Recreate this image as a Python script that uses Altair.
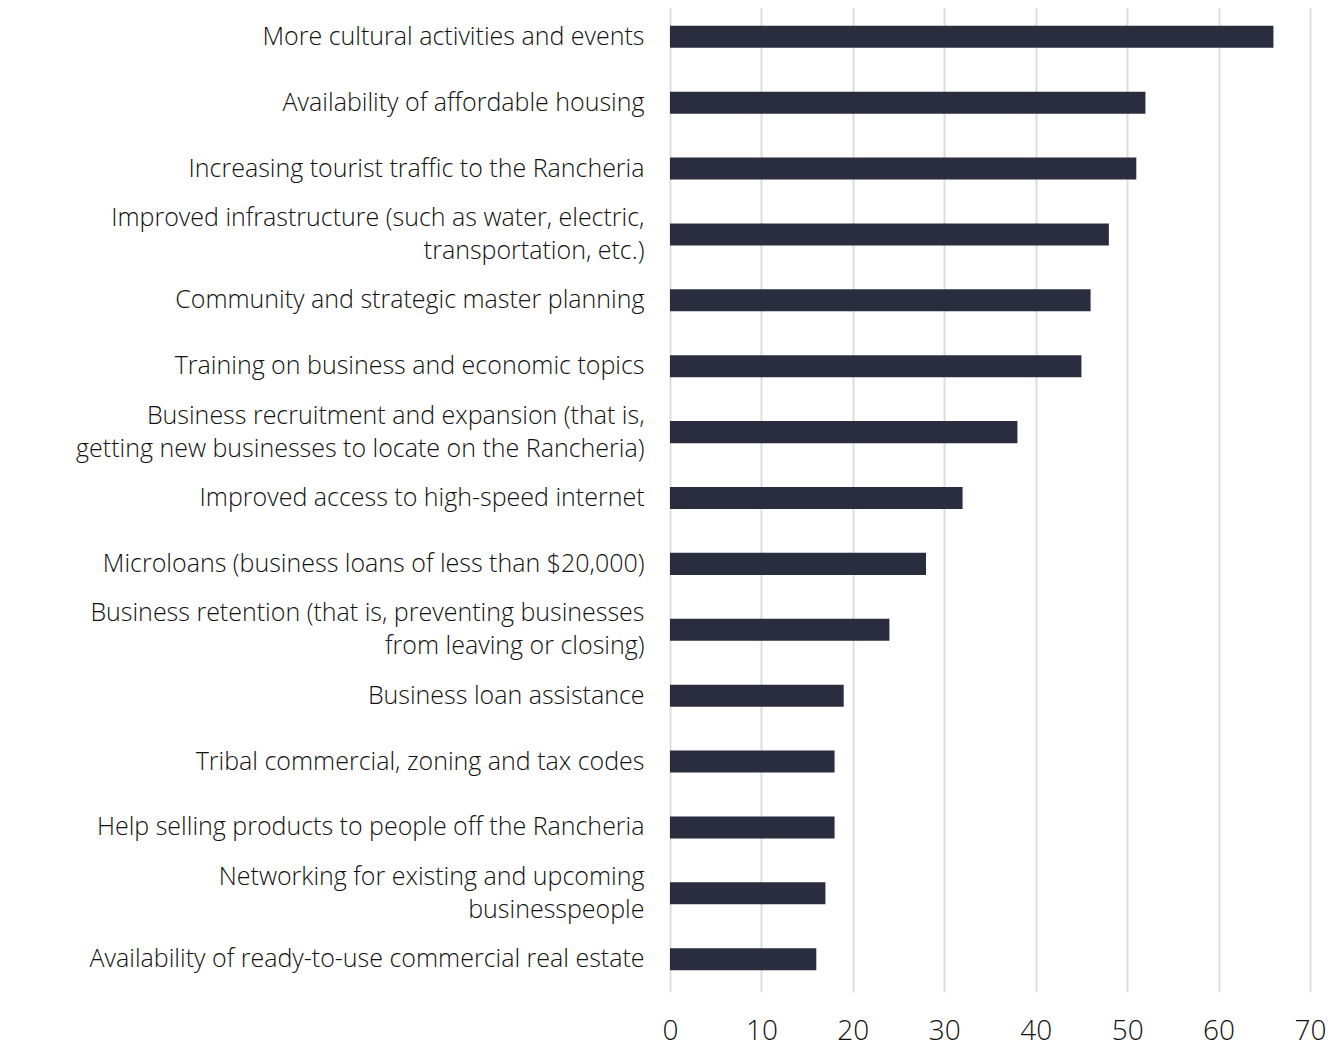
import altair as alt
import pandas as pd

categories = [
    "More cultural activities and events",
    "Availability of affordable housing",
    "Increasing tourist traffic to the Rancheria",
    "Improved infrastructure (such as water, electric,|transportation, etc.)",
    "Community and strategic master planning",
    "Training on business and economic topics",
    "Business recruitment and expansion (that is,|getting new businesses to locate on the Rancheria)",
    "Improved access to high-speed internet",
    "Microloans (business loans of less than $20,000)",
    "Business retention (that is, preventing businesses|from leaving or closing)",
    "Business loan assistance",
    "Tribal commercial, zoning and tax codes",
    "Help selling products to people off the Rancheria",
    "Networking for existing and upcoming|businesspeople",
    "Availability of ready-to-use commercial real estate",
]
values = [66, 52, 51, 48, 46, 45, 38, 32, 28, 24, 19, 18, 18, 17, 16]
x_ticks = [0, 10, 20, 30, 40, 50, 60, 70]

df = pd.DataFrame({"category": categories, "value": values})

chart = alt.Chart(df).mark_bar(color="#2a2d3e").encode(
    x=alt.X(
        "value:Q",
        scale=alt.Scale(domain=[0, 70], nice=False),
        axis=alt.Axis(
            values=x_ticks,
            title=None,
            domain=False,
            ticks=False,
            grid=True,
            gridColor="#dcdce6",
            gridWidth=2,
            labelFont="Open Sans",
            labelFontSize=28,
            labelFontWeight=300,
            labelColor="#111111",
            labelPadding=25,
            labelFlush=False,
        ),
    ),
    y=alt.Y(
        "category:N",
        sort=categories,
        scale=alt.Scale(paddingInner=0.665, paddingOuter=0.33),
        axis=alt.Axis(
            title=None,
            domain=False,
            ticks=False,
            grid=False,
            labelExpr="split(datum.label, '|')",
            labelFont="Open Sans",
            labelFontSize=25,
            labelFontWeight=300,
            labelLineHeight=33,
            labelColor="#111111",
            labelPadding=26,
            labelLimit=700,
            labelOffset={
                "condition": {"test": "indexof(datum.value, '|') >= 0", "value": -16.5},
                "value": 0,
            },
        ),
    ),
).properties(
    width=640,
    height=988,
    autosize=alt.AutoSizeParams(type="none"),
    padding={"left": 662, "top": -4, "right": 20, "bottom": 54},
).configure_view(stroke=None)

chart.save("out.html", embed_options={"renderer": "svg", "actions": False})
